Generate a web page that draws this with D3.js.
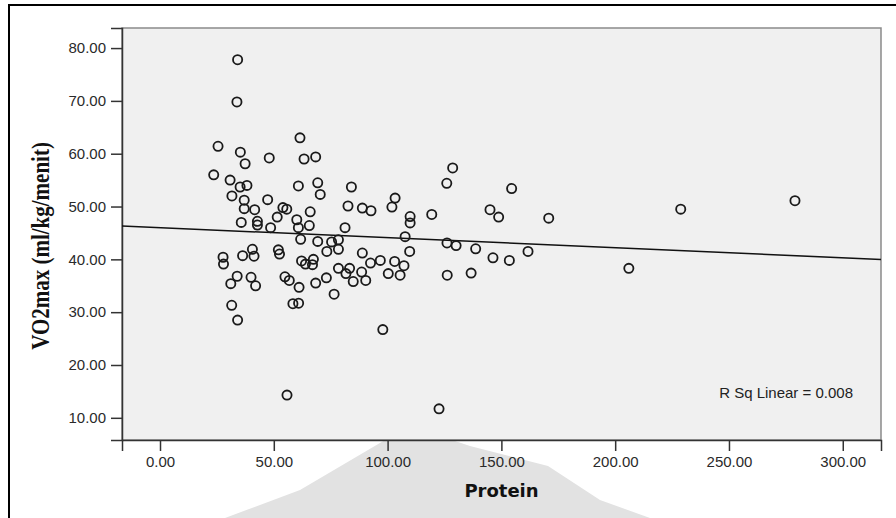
<!DOCTYPE html>
<html>
<head>
<meta charset="utf-8">
<script src="https://cdn.jsdelivr.net/npm/d3@7"></script>
<style>
  body { margin: 0; background: #fff; }
  svg { display: block; }
</style>
</head>
<body>
<div id="chart"></div>
<script>
// Protein intake vs VO2max
const protein = [
  34.1, 33.8, 25.5, 61.5, 35.3, 37.4, 48.0, 63.3, 68.4, 23.6,
  30.8, 35.2, 38.2, 60.8, 69.3, 84.1, 31.6, 70.4, 103.3, 37.0,
  47.3, 82.6, 88.9, 92.7, 101.9, 37.0, 41.6, 54.0, 55.7, 66.0,
  51.5, 60.1, 35.7, 42.8, 42.8, 48.6, 65.6, 81.3, 60.8, 61.8,
  69.3, 75.4, 78.4, 73.3, 78.4, 88.9, 92.5, 96.8, 103.1, 27.7,
  27.9, 36.3, 40.6, 41.3, 52.0, 52.5, 62.2, 63.9, 67.4, 67.0,
  78.4, 83.3, 81.7, 84.9, 88.6, 90.4, 100.3, 105.5, 107.2, 33.9,
  31.1, 40.0, 42.0, 54.9, 56.8, 61.1, 68.4, 73.1, 76.5, 31.5,
  34.1, 58.4, 60.9, 97.9, 55.8, 122.6, 109.9, 109.9, 119.4, 107.7,
  109.7, 128.6, 126.0, 154.5, 145.0, 148.8, 170.8, 126.1, 130.1, 138.7,
  161.7, 146.3, 153.5, 126.2, 136.7, 206.0, 228.8, 279.0
];
const vo2max = [
  77.8, 69.8, 61.4, 63.0, 60.3, 58.1, 59.2, 59.0, 59.4, 56.0,
  55.0, 53.7, 54.0, 53.9, 54.5, 53.7, 52.0, 52.3, 51.6, 51.2,
  51.3, 50.1, 49.7, 49.2, 49.9, 49.6, 49.4, 49.8, 49.5, 49.0,
  48.0, 47.5, 47.0, 47.2, 46.5, 46.0, 46.4, 46.0, 46.0, 43.8,
  43.4, 43.3, 43.7, 41.5, 41.9, 41.2, 39.3, 39.8, 39.6, 40.4,
  39.1, 40.7, 41.9, 40.6, 41.8, 41.0, 39.7, 39.1, 40.0, 39.0,
  38.3, 38.3, 37.3, 35.8, 37.6, 36.0, 37.3, 37.0, 38.8, 36.8,
  35.4, 36.6, 35.0, 36.7, 36.0, 34.7, 35.5, 36.5, 33.4, 31.3,
  28.5, 31.6, 31.7, 26.7, 14.3, 11.7, 48.1, 46.9, 48.5, 44.3,
  41.5, 57.3, 54.4, 53.4, 49.4, 48.0, 47.8, 43.1, 42.6, 42.0,
  41.5, 40.3, 39.8, 37.0, 37.4, 38.3, 49.5, 51.1
];
const xTicks = [0, 50, 100, 150, 200, 250, 300];
const yTicks = [10, 20, 30, 40, 50, 60, 70, 80];
// linear fit line as drawn in the chart
const fitIntercept = 46.0;
const fitSlope = -0.019;
const rSquared = "0.008";

const W = 896, H = 518;
const PLOT = {LEFT: 122, TOP: 28, RIGHT: 881, BOTTOM: 440};

const svg = d3.select("#chart").append("svg")
    .attr("width", W)
    .attr("height", H);

// outer frame of the output window
svg.append("rect")
    .attr("x", 9).attr("y", 5)
    .attr("width", 1000).attr("height", 1000)
    .attr("fill", "#fff")
    .attr("stroke", "#000")
    .attr("stroke-width", 2);

// faint watermark behind the chart
svg.append("path")
    .attr("d", "M225,518 L300,490 L385,440 L413,427 L470,446 L548,466 L600,500 L650,518 Z")
    .attr("fill", "#e2e2e2");

const x = d3.scaleLinear()
    .domain([-16.7, 316.8])
    .range([PLOT.LEFT, PLOT.RIGHT]);
const y = d3.scaleLinear()
    .domain([5.8, 83.8])
    .range([PLOT.BOTTOM, PLOT.TOP]);

// plot background
svg.append("rect")
    .attr("x", PLOT.LEFT).attr("y", PLOT.TOP)
    .attr("width", PLOT.RIGHT - PLOT.LEFT)
    .attr("height", PLOT.BOTTOM - PLOT.TOP)
    .attr("fill", "#f0f0f0")
    .attr("stroke", "#8a8a8a")
    .attr("stroke-width", 1.5);

const fmt = d3.format(".2f");

const xAxis = svg.append("g")
    .attr("transform", `translate(0, ${PLOT.BOTTOM})`)
    .call(d3.axisBottom(x).tickValues(xTicks).tickFormat(fmt)
        .tickSize(11).tickPadding(5));
const yAxis = svg.append("g")
    .attr("transform", `translate(${PLOT.LEFT}, 0)`)
    .call(d3.axisLeft(y).tickValues(yTicks).tickFormat(fmt)
        .tickSize(11).tickPadding(5));

[xAxis, yAxis].forEach(g => {
    g.select(".domain").attr("stroke", "#333").attr("stroke-width", 1.5);
    g.selectAll(".tick line").attr("stroke", "#333").attr("stroke-width", 1.5);
    g.selectAll(".tick text")
        .attr("fill", "#2a2a2a")
        .style("font-family", "'Liberation Sans', Arial, sans-serif")
        .style("font-size", "15px");
});

// regression line across the whole plot
const xd = x.domain();
svg.append("line")
    .attr("x1", x(xd[0])).attr("y1", y(fitIntercept + fitSlope * xd[0]))
    .attr("x2", x(xd[1])).attr("y2", y(fitIntercept + fitSlope * xd[1]))
    .attr("stroke", "#111")
    .attr("stroke-width", 1.5);

// points
svg.append("g").selectAll("circle")
    .data(protein.map((p, i) => ({p, v: vo2max[i]})))
    .enter().append("circle")
        .attr("cx", d => x(d.p))
        .attr("cy", d => y(d.v))
        .attr("r", 4.6)
        .attr("fill", "none")
        .attr("stroke", "#1a1a1a")
        .attr("stroke-width", 1.8);

// labels
svg.append("text")
    .attr("x", 853).attr("y", 398)
    .attr("text-anchor", "end")
    .attr("fill", "#222")
    .style("font-family", "'Liberation Sans', Arial, sans-serif")
    .style("font-size", "15px")
    .text(`R Sq Linear = ${rSquared}`);

svg.append("text")
    .attr("x", (PLOT.LEFT + PLOT.RIGHT) / 2)
    .attr("y", 497)
    .attr("text-anchor", "middle")
    .attr("fill", "#111")
    .style("font-family", "'DejaVu Sans', Verdana, sans-serif")
    .style("font-weight", "bold")
    .style("font-size", "18px")
    .text("Protein");

svg.append("text")
    .attr("transform", `translate(49, ${(PLOT.TOP + PLOT.BOTTOM) / 2 + 12}) rotate(-90) scale(1, 1.2)`)
    .attr("text-anchor", "middle")
    .attr("fill", "#111")
    .style("font-family", "'Liberation Serif', 'Times New Roman', serif")
    .style("font-weight", "bold")
    .style("font-size", "21px")
    .text("VO2max (ml/kg/menit)");
</script>
</body>
</html>
